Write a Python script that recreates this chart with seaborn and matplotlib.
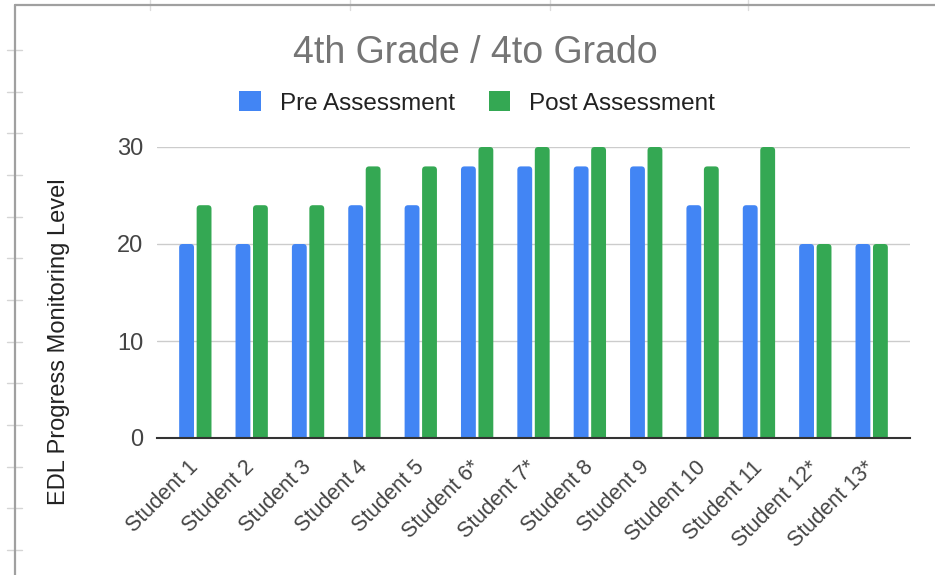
import matplotlib
matplotlib.use("Agg")
import matplotlib.pyplot as plt
import seaborn as sns
import pandas as pd
from matplotlib.patches import FancyBboxPatch, Patch
from matplotlib.lines import Line2D

# ---------------- data ----------------
students = ["Student 1", "Student 2", "Student 3", "Student 4", "Student 5",
            "Student 6*", "Student 7*", "Student 8", "Student 9", "Student 10",
            "Student 11", "Student 12*", "Student 13*"]
pre = [20, 20, 20, 24, 24, 28, 28, 28, 28, 24, 24, 20, 20]
post = [24, 24, 24, 28, 28, 30, 30, 30, 30, 28, 30, 20, 20]
series = ["Pre Assessment", "Post Assessment"]
colors = ["#4285F4", "#34A853"]
yticks = [0, 10, 20, 30]
title = "4th Grade / 4to Grado"
ylabel = "EDL Progress Monitoring Level"

df = pd.DataFrame({
    "Student": students * 2,
    "Level": pre + post,
    "Assessment": [series[0]] * len(students) + [series[1]] * len(students),
})

sns.set_theme(style="white")
plt.rcParams["font.family"] = ["Liberation Sans", "DejaVu Sans"]

W, H = 935, 575
fig = plt.figure(figsize=(W / 100, H / 100), dpi=100)
fig.patch.set_facecolor("white")

ax_l, ax_r, ax_t, ax_b = 157, 910, 147, 438
ax = fig.add_axes([ax_l / W, 1 - ax_b / H, (ax_r - ax_l) / W, (ax_b - ax_t) / H])

sns.barplot(data=df, x="Student", y="Level", hue="Assessment",
            palette=colors, width=0.62, gap=0.15, saturation=1,
            legend=False, ax=ax)

xlim = (-0.68, len(students) - 1 + 0.68)
ax.set_xlim(*xlim)
ax.set_ylim(0, 30)

# rounded bar tops
px_x = (ax_r - ax_l) / (xlim[1] - xlim[0])
px_y = (ax_b - ax_t) / 30.0
r_px = 3.5
r_x = r_px / px_x
asp = px_x / px_y
for p in list(ax.patches):
    x, y = p.get_x(), p.get_y()
    w, h = p.get_width(), p.get_height()
    fc = p.get_facecolor()
    ext = 0.8
    fb = FancyBboxPatch((x, y - ext), w, h + ext,
                        boxstyle=f"round,pad=0,rounding_size={r_x}",
                        mutation_aspect=asp, fc=fc, ec="none", zorder=2)
    ax.add_patch(fb)
    p.remove()

ax.set_yticks(yticks)
ax.grid(axis="y", color="#cccccc", lw=1)
ax.grid(axis="x", visible=False)
ax.set_axisbelow(True)
for s in ["top", "right", "left"]:
    ax.spines[s].set_visible(False)
ax.spines["bottom"].set_color("#333333")
ax.spines["bottom"].set_linewidth(1.5)
ax.spines["bottom"].set_zorder(3)

ax.tick_params(axis="y", length=0, pad=10, labelsize=17, labelcolor="#444444")
ax.tick_params(axis="x", length=0, pad=19, labelsize=15.5, labelcolor="#444444")
for lab in ax.get_xticklabels():
    lab.set_rotation(45)
    lab.set_ha("right")
    lab.set_va("center")
    lab.set_rotation_mode("anchor")

ax.set_xlabel("")
ax.set_ylabel(ylabel, fontsize=17, color="#222222")
ax.yaxis.set_label_coords((70 - ax_l) / (ax_r - ax_l), (ax_b - 342) / (ax_b - ax_t))

# title
fig.text(475 / W, 1 - 63 / H, title, ha="center", va="baseline",
         fontsize=27, color="#757575")

# legend
handles = [Patch(facecolor=c, edgecolor="none") for c in colors]
leg = fig.legend(handles, series, loc="center", bbox_to_anchor=(477 / W, 1 - 103 / H),
                 ncol=2, frameon=False, fontsize=17.5, handlelength=0.9,
                 handleheight=0.9, handletextpad=0.75, columnspacing=1.4)
for t in leg.get_texts():
    t.set_color("#222222")

# spreadsheet frame around the chart
def fig_line(x0, y0, x1, y1, color, lw):
    fig.add_artist(Line2D([x0 / W, x1 / W], [1 - y0 / H, 1 - y1 / H],
                          transform=fig.transFigure, color=color, lw=lw))

for cx in [150, 350, 550, 748]:
    fig_line(cx, 0, cx, 10, "#dddddd", 1)
for i in range(13):
    ry = 50 + 41.67 * i
    fig_line(7, ry, 22, ry, "#d5d5d5", 1)
fig_line(15, 4.5, W, 4.5, "#a0a0a0", 1.6)
fig_line(15, 4.5, 15, H, "#a0a0a0", 1.6)

fig.savefig("out.png", dpi=100, facecolor="white")
